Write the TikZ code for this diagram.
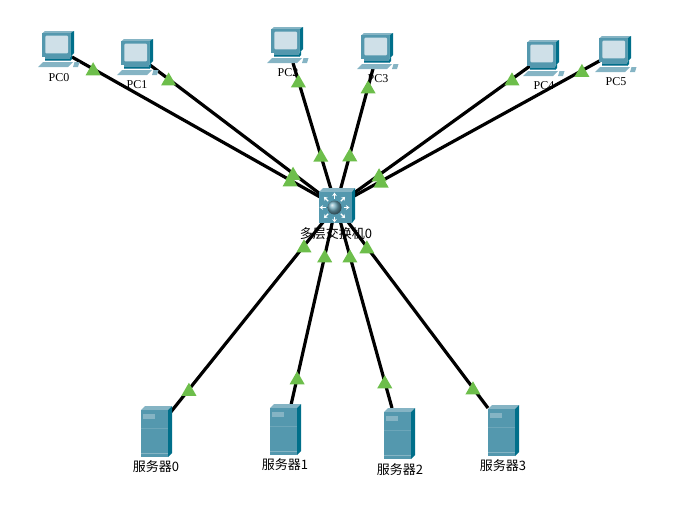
\documentclass[tikz,border=0pt]{standalone}
\usepackage{fontspec}
\setmainfont{Liberation Serif}
\newfontfamily\cjk{Noto Sans CJK SC}
\usetikzlibrary{arrows.meta,calc,shapes.geometric}
\definecolor{ffront}{HTML}{5498AE}
\definecolor{ftop}{HTML}{85B4C4}
\definecolor{fside}{HTML}{006F8A}
\definecolor{fscreen}{HTML}{CFE0E8}
\definecolor{fport}{HTML}{6DBE4B}
\tikzset{
  link/.style    = {line width=3.2pt, black},
  porttri/.style = {regular polygon, regular polygon sides=3, fill=fport,
                    inner sep=0pt, minimum size=17.4pt, yshift=-2pt},
  devlabel/.style = {inner sep=0pt, font=\fontsize{12}{13}\selectfont},
  cjklabel/.style = {inner sep=0pt, font=\fontsize{13}{14}\selectfont\cjk},
  pics/pcicon/.style = {code={
    \fill[ftop] (4.3,2.3) -- (7,0) -- (36,0) -- (32.3,2.3) -- cycle;
    \fill[fside] (32.3,2.3) -- (36,0) -- (36,22) -- (32.3,25.7) -- cycle;
    \fill[ffront] (4.3,2.3) rectangle (32.3,25.7);
    \fill[fscreen, rounded corners=1pt] (7.3,4.7) rectangle (30,22.3);
    \fill[fside] (32.3,25.7) -- (34,24) -- (34,28) -- (32,30) -- cycle;
    \fill[ffront] (7,25.7) rectangle (32,30);
    \fill[fside] (7,27.5) rectangle (32,28.5);
    \fill[ftop] (5,31) -- (35,31) -- (30,36) -- (0,36) -- cycle;
    \fill[ftop] (36.5,31) -- (41.5,31) -- (40,36) -- (35,36) -- cycle;
  }},
  pics/servericon/.style = {code={
    \fill[ftop] (0,4) -- (4,0) -- (31,0) -- (27,4) -- cycle;
    \fill[fside] (27,4) -- (31,0) -- (31,47) -- (27,51) -- cycle;
    \fill[ffront] (0,4) rectangle (27,51);
    \fill[ftop] (2,8) rectangle (14,13);
    \draw[ftop,opacity=0.5] (0,22) -- (27,22);
    \draw[ftop] (0,47.5) -- (27,47.5);
  }},
  pics/switchicon/.style = {code={
    \fill[ftop] (0,4) -- (4,0) -- (36,0) -- (33,4) -- cycle;
    \fill[fside] (33,4) -- (36,0) -- (36,31) -- (33,35) -- cycle;
    \fill[ffront] (0,4) rectangle (33,35);
    \shade[ball color=ffront!85!white] (15.5,19.5) circle (7);
    \foreach \a in {0,45,...,315}
      \draw[-{Stealth[length=3.5pt,width=4.5pt]},white,line width=1.2pt]
        ($(15.5,19.5)+(\a:9)$) -- ($(15.5,19.5)+(\a:15)$);
  }},
}
\begin{document}
\begin{tikzpicture}[x=1pt, y=-1pt]
\useasboundingbox (0,0) rectangle (676,512);
\coordinate (sw0) at (336,206);
% ---------- links ----------
\foreach \n/\x/\y in {pc0/72/57, pc1/150/65, pc2/293/63, pc3/374/65, pc4/530/66,
    pc5/603/59, srv0/170/413, srv1/291/405, srv2/392/408, srv3/488/408}{
  \coordinate (\n) at (\x,\y);
  \draw[link] (\n) -- (sw0);
}
% ---------- devices ----------
\foreach \n/\x/\y in {pc0/38/31, pc1/117/39, pc2/267/27, pc3/357/33, pc4/523/40, pc5/595/36}
  \pic (\n icon) at (\x,\y) {pcicon};
\foreach \n/\x/\y in {srv0/141/406, srv1/270/404, srv2/384/408, srv3/488/405}
  \pic (\n icon) at (\x,\y) {servericon};
\pic (sw0icon) at (319,188) {switchicon};
% ---------- port lights ----------
\foreach \n/\p/\q in {pc0/0.08/0.826, pc1/0.10/0.769, pc2/0.126/0.646, pc3/0.156/0.638,
    pc4/0.093/0.778, pc5/0.079/0.831, srv0/0.114/0.807, srv1/0.136/0.749,
    srv2/0.129/0.752, srv3/0.099/0.797}{
  \path (\n) -- (sw0) node[porttri, pos=\p] (\n near) {} node[porttri, pos=\q] (\n far) {};
}
% ---------- labels ----------
\foreach \n/\x/\y/\t in {pc0/59/78/PC0, pc1/137/85/PC1, pc2/288/73/PC2,
    pc3/378/79/PC3, pc4/544/86/PC4, pc5/616/82/PC5}
  \node[devlabel] (\n label) at (\x,\y) {\t};
\foreach \n/\x/\y/\t in {srv0/156/467/服务器0, srv1/285/465/服务器1,
    srv2/400/470/服务器2, srv3/503/466/服务器3, sw0/336/234/多层交换机0}
  \node[cjklabel] (\n label) at (\x,\y) {\t};
\end{tikzpicture}
\end{document}
